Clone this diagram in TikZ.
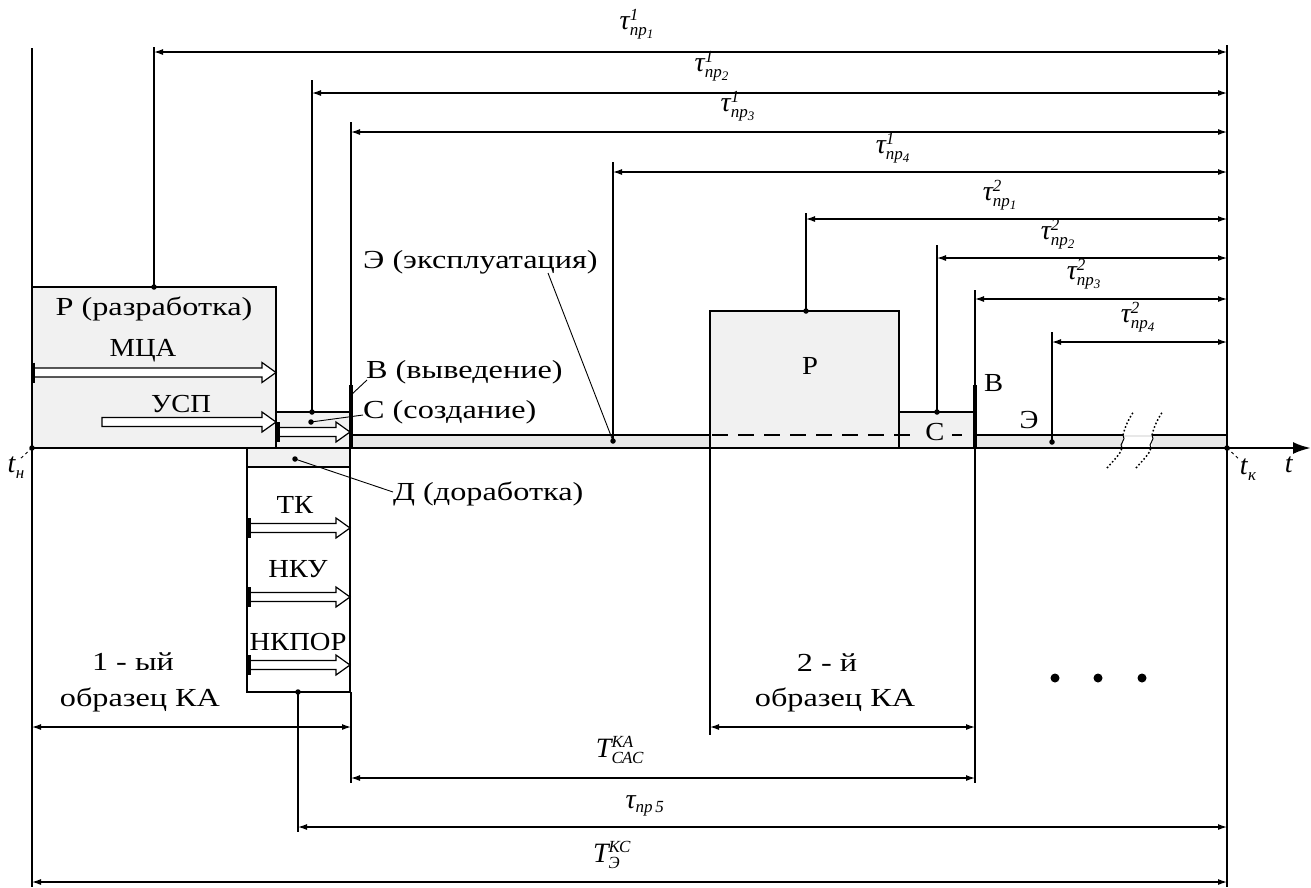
\documentclass[tikz,border=0pt]{standalone}
\usepackage{fontspec}
\setmainfont{Liberation Serif}[FakeStretch=1.24]
\newfontfamily\capfont{Liberation Serif}[FakeStretch=1.1]
\newfontfamily\labfont{Liberation Serif}
\usetikzlibrary{arrows.meta}
\definecolor{boxgray}{gray}{0.945}
\definecolor{bandgray}{gray}{0.91}
\newcommand\smallit[1]{\mbox{\labfont\fontsize{17}{17}\selectfont\itshape #1}}
\newcommand\tinyit[1]{\mbox{\labfont\fontsize{13}{13}\selectfont\itshape #1}}
\newcommand\bigit[1]{\mbox{\labfont\itshape #1}}
\newcommand\taulab[2]{$\bigit{τ}^{\smallit{#1}}_{\smallit{пр$_{\tinyit{#2}}$}}$}
\newcommand\harrow[3]{\draw[fine, fill=white] (#1,#3-4.5) -- (#2-14,#3-4.5) -- (#2-14,#3-10) -- (#2,#3) -- (#2-14,#3+10) -- (#2-14,#3+4.5) -- (#1,#3+4.5) -- cycle;}
\newcommand\htick[2]{\draw[line width=3.5pt] (#1,#2-10) -- (#1,#2+10);}
\tikzset{
  heavy/.style={line width=2.6pt},
  fine/.style={line width=1.2pt},
  dimline/.style={fine, {Latex[length=9pt,width=6pt]}-{Latex[length=9pt,width=6pt]}},
  graybox/.style={draw, heavy, fill=boxgray, inner sep=0pt, outer sep=0pt},
  whitebox/.style={draw, heavy, fill=white, inner sep=0pt, outer sep=0pt},
  lbl/.style={inner sep=0pt, font=\fontsize{26}{29}\selectfont},
  clbl/.style={inner sep=0pt, font=\capfont\fontsize{26}{29}\selectfont},
  mlbl/.style={inner sep=0pt, font=\labfont\fontsize{28}{30}\selectfont},
  leader/.style={line width=0.9pt},
  cdot/.style={circle, fill, inner sep=0pt, minimum size=5.5pt},
  bigdot/.style={circle, fill, inner sep=0pt, minimum size=9pt},
  breakline/.style={line width=1.5pt, dash pattern=on 1.6pt off 2.2pt},
}
\begin{document}
\begin{tikzpicture}[x=1pt,y=-1pt]
\useasboundingbox (0,0) rectangle (1311,887);
% band
\fill[bandgray] (350,435) rectangle (1227,448);
% boxes
\node[graybox, minimum width=244pt, minimum height=161pt] (R1) at (154,367.5) {};
\node[graybox, minimum width=74pt, minimum height=36pt] (C1) at (313,430) {};
\node[graybox, minimum width=103pt, minimum height=19pt] (D1) at (298.5,457.5) {};
\node[whitebox, minimum width=103pt, minimum height=225pt] (L1) at (298.5,579.5) {};
\node[graybox, minimum width=189pt, minimum height=137pt] (R2) at (804.5,379.5) {};
\node[graybox, minimum width=76pt, minimum height=36pt] (C2) at (937,430) {};
% band top line
\draw[heavy] (350,435) -- (710,435);
\draw[heavy, dash pattern=on 16pt off 10pt] (712,435) -- (918,435);
\draw[heavy] (952,435) -- (962,435);
\draw[heavy] (975,435) -- (1123,435);
\draw[heavy] (1152,435) -- (1227,435);
\fill[white] (1123,436.5) rectangle (1152,446.5);
% axis
\coordinate (ax0) at (32,448);
\coordinate (ax1) at (1311,448);
\draw[heavy, -{Latex[length=18pt,width=12pt]}] (ax0) -- (ax1);
% break symbol
\foreach \dx in {0,29} {
  \draw[breakline] (1107+\dx,468) .. controls (1115+\dx,459) and (1121+\dx,453) .. (1122+\dx,448);
  \draw[line width=1pt] (1122+\dx,448) .. controls (1118+\dx,444) and (1127+\dx,440) .. (1123+\dx,435);
  \draw[breakline] (1123+\dx,435) .. controls (1125+\dx,427) and (1128+\dx,420) .. (1134+\dx,411);
}
% main verticals
\coordinate (Lt) at (32,48); \coordinate (Lb) at (32,887);
\coordinate (Rt) at (1227,45); \coordinate (Rb) at (1227,887);
\draw[heavy] (Lt) -- (Lb);
\draw[heavy] (Rt) -- (Rb);
% В marks
\draw[line width=4pt] (351,385) -- (351,448);
\draw[line width=4pt] (975,385) -- (975,448);
% hollow arrows
\harrow{32}{276}{372.5}\htick{33.5}{372.5}
\harrow{102}{276}{422}
\harrow{278}{350}{432}\htick{278}{432}
\harrow{248}{350}{528}\htick{249}{528}
\harrow{248}{350}{597}\htick{249}{597}
\harrow{248}{350}{665}\htick{249}{665}
% extension lines
\coordinate (e1t) at (154,47);   \coordinate (e1b) at (154,287);
\coordinate (e2t) at (312,80);   \coordinate (e2b) at (312,412);
\coordinate (e3t) at (351,122);  \coordinate (e3b) at (351,385);
\coordinate (e4t) at (613,162);  \coordinate (e4b) at (613,441);
\coordinate (e5t) at (806,213);  \coordinate (e5b) at (806,311);
\coordinate (e6t) at (937,245);  \coordinate (e6b) at (937,412);
\coordinate (e7t) at (975,290);  \coordinate (e7b) at (975,385);
\coordinate (e8t) at (1052,332); \coordinate (e8b) at (1052,442);
\coordinate (f1t) at (351,692);  \coordinate (f1b) at (351,783);
\coordinate (f2t) at (710,448);  \coordinate (f2b) at (710,735);
\coordinate (f3t) at (975,448);  \coordinate (f3b) at (975,783);
\coordinate (f4t) at (298,692);  \coordinate (f4b) at (298,832);
\foreach \n in {e1,e2,e3,e4,e5,e6,e7,e8,f1,f2,f3,f4} \draw[fine] (\n t) -- (\n b);
% dimension lines
\coordinate (d1l) at (154,52);  \coordinate (d1r) at (1227,52);
\coordinate (d2l) at (312,93);  \coordinate (d2r) at (1227,93);
\coordinate (d3l) at (351,132); \coordinate (d3r) at (1227,132);
\coordinate (d4l) at (613,172); \coordinate (d4r) at (1227,172);
\coordinate (d5l) at (806,219); \coordinate (d5r) at (1227,219);
\coordinate (d6l) at (937,258); \coordinate (d6r) at (1227,258);
\coordinate (d7l) at (975,299); \coordinate (d7r) at (1227,299);
\coordinate (d8l) at (1052,342); \coordinate (d8r) at (1227,342);
\coordinate (g1l) at (32,727);  \coordinate (g1r) at (351,727);
\coordinate (g2l) at (710,727); \coordinate (g2r) at (975,727);
\coordinate (g3l) at (351,778); \coordinate (g3r) at (975,778);
\coordinate (g4l) at (298,827); \coordinate (g4r) at (1227,827);
\coordinate (g5l) at (32,882);  \coordinate (g5r) at (1227,882);
\foreach \n in {d1,d2,d3,d4,d5,d6,d7,d8,g1,g2,g3,g4,g5} \draw[dimline] (\n l) -- (\n r);
% dimension labels
\node[mlbl] (L11) at (637,24) {\taulab{1}{1}};
\node[mlbl] (L12) at (712,66) {\taulab{1}{2}};
\node[mlbl] (L13) at (738,106) {\taulab{1}{3}};
\node[mlbl] (L14) at (893,148) {\taulab{1}{4}};
\node[mlbl] (L21) at (1000,195) {\taulab{2}{1}};
\node[mlbl] (L22) at (1058,234) {\taulab{2}{2}};
\node[mlbl] (L23) at (1084,274) {\taulab{2}{3}};
\node[mlbl] (L24) at (1138,317) {\taulab{2}{4}};
\node[mlbl] (LT1) at (620,750) {$\bigit{T}^{\smallit{КА}}_{\smallit{САС}}$};
\node[mlbl] (LT2) at (645,806) {$\bigit{τ}_{\smallit{пр\,5}}$};
\node[mlbl] (LT3) at (612,855) {$\bigit{T}^{\smallit{КС}}_{\smallit{Э}}$};
% texts
\node[lbl] (tR1) at (154,309) {Р (разработка)};
\node[clbl] (tMCA) at (143,351) {МЦА};
\node[clbl] (tUSP) at (181,404) {УСП};
\node[lbl, anchor=west] (tV) at (366,372) {В (выведение)};
\node[lbl, anchor=west] (tC) at (363,412) {С (создание)};
\node[lbl, anchor=west] (tE) at (363,262) {Э (эксплуатация)};
\node[lbl, anchor=west] (tD) at (393,494) {Д (доработка)};
\node[clbl] (tTK) at (295,505) {ТК};
\node[clbl] (tNKU) at (298,569) {НКУ};
\node[clbl] (tNKPOR) at (298,642) {НКПОР};
\node[clbl] (tR2) at (810,366) {Р};
\node[clbl] (tC2) at (935,432) {С};
\node[clbl, anchor=west] (tV2) at (984,383) {В};
\node[clbl] (tE2) at (1029,420) {Э};
\node[lbl] (t1a) at (133,662) {1 - ый};
\node[lbl] (t1b) at (140,700) {образец КА};
\node[lbl] (t2a) at (827,663) {2 - й};
\node[lbl] (t2b) at (835,700) {образец КА};
\node[mlbl] (tn) at (16,468) {\textit{t}\raisebox{-6pt}{\fontsize{17}{17}\selectfont\itshape н}};
\node[mlbl] (tk) at (1248,470) {\textit{t}\raisebox{-6pt}{\fontsize{17}{17}\selectfont\itshape к}};
\node[mlbl] (tt) at (1289,465) {\textit{t}};
% leaders
\coordinate (lE1) at (548,273); \coordinate (lE2) at (613,441);
\coordinate (lV1) at (351,395); \coordinate (lV2) at (367,380);
\coordinate (lC1) at (311,422); \coordinate (lC2) at (363,415);
\coordinate (lD1) at (295,459); \coordinate (lD2) at (393,492);
\coordinate (ln1) at (32,448);  \coordinate (ln2) at (20,459);
\coordinate (lk1) at (1227,448); \coordinate (lk2) at (1240,460);
\draw[leader] (lE1) -- (lE2);
\draw[leader] (lV1) -- (lV2);
\draw[leader] (lC1) -- (lC2);
\draw[leader] (lD1) -- (lD2);
\draw[leader, dashed] (ln1) -- (ln2);
\draw[leader, dashed] (lk1) -- (lk2);
% dots
\foreach \p in {e1b,e2b,e4b,e5b,e6b,e8b,f4t,lC1,lD1,ln1,lk1} \node[cdot] at (\p) {};
\node[bigdot] (b1) at (1055,678) {};
\node[bigdot] (b2) at (1098,678) {};
\node[bigdot] (b3) at (1142,678) {};
\end{tikzpicture}
\end{document}
